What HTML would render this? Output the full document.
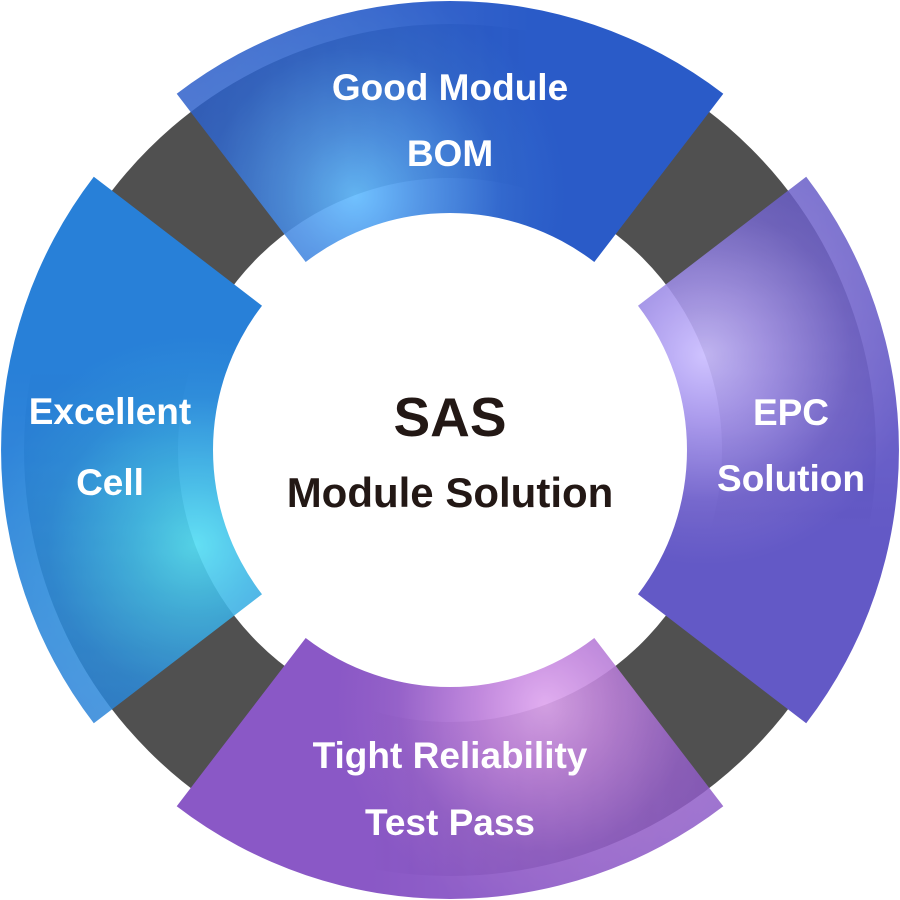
<!DOCTYPE html>
<html>
<head>
<meta charset="utf-8">
<style>
  html, body { margin: 0; padding: 0; background: #ffffff; }
  svg { display: block; }
  .lbl { font-family: "Liberation Sans", Arial, sans-serif; font-weight: bold; fill: #ffffff; font-size: 37px; }
  .ctr { font-family: "Liberation Sans", Arial, sans-serif; font-weight: bold; fill: #231815; }
</style>
</head>
<body>
<svg width="900" height="900" viewBox="0 0 900 900" xmlns="http://www.w3.org/2000/svg">
  <defs>
    <linearGradient id="mg" gradientUnits="userSpaceOnUse" x1="-300" y1="0" x2="80" y2="0">
      <stop offset="0" stop-color="#d1d1d1"/>
      <stop offset="1" stop-color="#ffffff"/>
    </linearGradient>
    <mask id="m" maskUnits="userSpaceOnUse" x="-500" y="-500" width="1000" height="1000">
      <rect x="-500" y="-500" width="1000" height="1000" fill="url(#mg)"/>
    </mask>
    <radialGradient id="gTop" gradientUnits="userSpaceOnUse" cx="-95" cy="-255" r="210">
      <stop offset="0" stop-color="#64bcff"/>
      <stop offset="0.3" stop-color="#4c92e6"/>
      <stop offset="0.7" stop-color="#3066cc"/>
      <stop offset="1" stop-color="#2a5bc8"/>
    </radialGradient>
    <radialGradient id="gRight" gradientUnits="userSpaceOnUse" cx="-95" cy="-255" r="210">
      <stop offset="0" stop-color="#cabdff"/>
      <stop offset="0.3" stop-color="#a796ec"/>
      <stop offset="0.7" stop-color="#7466cc"/>
      <stop offset="1" stop-color="#6359c6"/>
    </radialGradient>
    <radialGradient id="gBottom" gradientUnits="userSpaceOnUse" cx="-95" cy="-255" r="210">
      <stop offset="0" stop-color="#dea6ee"/>
      <stop offset="0.3" stop-color="#c084dc"/>
      <stop offset="0.7" stop-color="#9460c8"/>
      <stop offset="1" stop-color="#8a58c6"/>
    </radialGradient>
    <radialGradient id="gLeft" gradientUnits="userSpaceOnUse" cx="-95" cy="-255" r="210">
      <stop offset="0" stop-color="#55ddf3"/>
      <stop offset="0.3" stop-color="#40b8e6"/>
      <stop offset="0.7" stop-color="#2d8cda"/>
      <stop offset="1" stop-color="#2880d8"/>
    </radialGradient>
  </defs>

  <rect width="900" height="900" fill="#ffffff"/>

  <!-- dark ring -->
  <circle cx="450" cy="450" r="349" fill="none" stroke="#505050" stroke-width="154"/>

  <!-- top segment -->
  <g transform="translate(450 450)">
    <path d="M -273.3 -356.2 A 449 449 0 0 1 273.3 -356.2 L 144.3 -188.0 A 237 237 0 0 0 -144.3 -188.0 Z"
          fill="url(#gTop)" mask="url(#m)"/>
  </g>
  <!-- right segment -->
  <g transform="translate(450 450) rotate(90)">
    <path d="M -273.3 -356.2 A 449 449 0 0 1 273.3 -356.2 L 144.3 -188.0 A 237 237 0 0 0 -144.3 -188.0 Z"
          fill="url(#gRight)" mask="url(#m)"/>
  </g>
  <!-- bottom segment -->
  <g transform="translate(450 450) rotate(180)">
    <path d="M -273.3 -356.2 A 449 449 0 0 1 273.3 -356.2 L 144.3 -188.0 A 237 237 0 0 0 -144.3 -188.0 Z"
          fill="url(#gBottom)" mask="url(#m)"/>
  </g>
  <!-- left segment -->
  <g transform="translate(450 450) rotate(270)">
    <path d="M -273.3 -356.2 A 449 449 0 0 1 273.3 -356.2 L 144.3 -188.0 A 237 237 0 0 0 -144.3 -188.0 Z"
          fill="url(#gLeft)" mask="url(#m)"/>
  </g>

  <!-- labels -->
  <text class="lbl" x="450" y="100" text-anchor="middle">Good Module</text>
  <text class="lbl" x="450" y="166" text-anchor="middle">BOM</text>

  <text class="lbl" x="791" y="425" text-anchor="middle">EPC</text>
  <text class="lbl" x="791" y="491" text-anchor="middle">Solution</text>

  <text class="lbl" x="450" y="768" text-anchor="middle">Tight Reliability</text>
  <text class="lbl" x="450" y="835" text-anchor="middle">Test Pass</text>

  <text class="lbl" x="110" y="424" text-anchor="middle">Excellent</text>
  <text class="lbl" x="110" y="495" text-anchor="middle">Cell</text>

  <!-- center -->
  <text class="ctr" x="450" y="436" text-anchor="middle" font-size="55">SAS</text>
  <text class="ctr" x="450" y="507" text-anchor="middle" font-size="42">Module Solution</text>
</svg>
</body>
</html>
